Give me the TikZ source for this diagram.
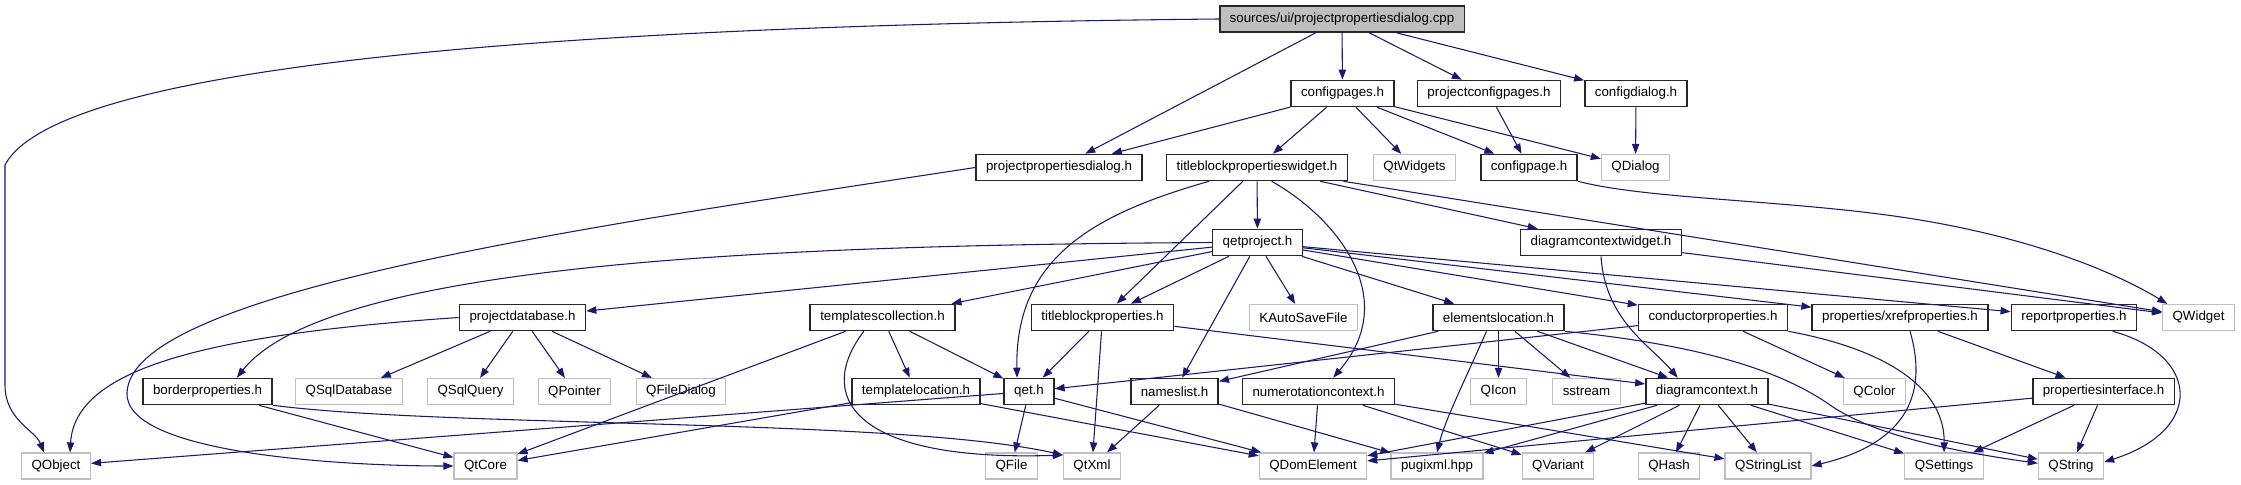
\documentclass[tikz,border=0pt]{standalone}
\usepackage{fontspec}
\setmainfont{Liberation Sans}
\usetikzlibrary{arrows.meta}
\definecolor{edgeblue}{HTML}{191970}
\definecolor{extgray}{HTML}{BFBFBF}

\begin{document}
\begin{tikzpicture}[x=0.75pt, y=-0.75pt, edge/.style={draw=edgeblue, line width=0.8pt, -{Triangle[length=7.5pt,width=5.5pt]}}]
\tikzstyle{file}=[draw=black!85, line width=1.2pt, inner xsep=7.5pt, inner ysep=0pt, minimum height=19.5pt, font=\fontsize{10}{12}\selectfont]
\tikzstyle{ext}=[file, draw=extgray, line width=0.9pt]
\useasboundingbox (0,0) rectangle (2241,485);
% top rows
\node[file, fill=extgray] (root) at (1342,19) {sources/ui/projectpropertiesdialog.cpp};
\node[file] (cfgpages) at (1342.5,93.5) {configpages.h};
\node[file] (projcfgpages) at (1489,93.5) {projectconfigpages.h};
\node[file] (cfgdialog) at (1636,93.5) {configdialog.h};
\node[file] (ppdialog) at (1059,167.5) {projectpropertiesdialog.h};
\node[file] (tbpwidget) at (1257,167.5) {titleblockpropertieswidget.h};
\node[ext] (qtwidgets) at (1414.5,167.5) {QtWidgets};
\node[file] (cfgpage) at (1529,167.5) {configpage.h};
\node[ext] (qdialog) at (1635.5,167.5) {QDialog};
\node[file] (qetproj) at (1257.5,242.5) {qetproject.h};
\node[file] (dcwidget) at (1601,242.5) {diagramcontextwidget.h};
% middle row
\node[file] (projdb) at (522.5,317.5) {projectdatabase.h};
\node[file] (tplcoll) at (882.5,317.5) {templatescollection.h};
\node[file] (tbprops) at (1102.5,317.5) {titleblockproperties.h};
\node[ext] (kautosave) at (1303.5,317.5) {KAutoSaveFile};
\node[file] (elmtloc) at (1498.5,317.5) {elementslocation.h};
\node[file] (condprops) at (1713,317.5) {conductorproperties.h};
\node[file] (xrefprops) at (1900,317.5) {properties/xrefproperties.h};
\node[file] (reportprops) at (2074,317.5) {reportproperties.h};
\node[ext] (qwidget) at (2198.5,317.5) {QWidget};
\node[file] (borderprops) at (207.5,391.5) {borderproperties.h};
\node[ext] (qsqldb) at (349,391.5) {QSqlDatabase};
\node[ext] (qsqlquery) at (470.5,391.5) {QSqlQuery};
\node[ext] (qpointer) at (574.5,391.5) {QPointer};
\node[ext] (qfiledialog) at (681,391.5) {QFileDialog};
\node[file] (tplloc) at (916,391.5) {templatelocation.h};
\node[file] (qet) at (1029,391.5) {qet.h};
\node[file] (nameslist) at (1174.5,391.5) {nameslist.h};
\node[file] (numctx) at (1318.5,391.5) {numerotationcontext.h};
\node[ext] (qicon) at (1498.5,391.5) {QIcon};
\node[ext] (sstream) at (1586.5,391.5) {sstream};
\node[file] (dctx) at (1707,391.5) {diagramcontext.h};
\node[ext] (qcolor) at (1874.5,391.5) {QColor};
\node[file] (propiface) at (2103.5,391.5) {propertiesinterface.h};
% bottom row
\node[ext] (qobject) at (56,466) {QObject};
\node[ext] (qtcore) at (485.5,466) {QtCore};
\node[ext] (qfile) at (1011.5,466) {QFile};
\node[ext] (qtxml) at (1092,466) {QtXml};
\node[ext] (qdomelement) at (1313,466) {QDomElement};
\node[ext] (pugixml) at (1437,466) {pugixml.hpp};
\node[ext] (qvariant) at (1558,466) {QVariant};
\node[ext] (qhash) at (1669,466) {QHash};
\node[ext] (qstringlist) at (1768,466) {QStringList};
\node[ext] (qsettings) at (1944,466) {QSettings};
\node[ext] (qstring) at (2071,466) {QString};
\foreach \i/\j in {root/ppdialog,root/cfgpages,root/projcfgpages,root/cfgdialog,
  cfgpages/ppdialog,cfgpages/tbpwidget,cfgpages/qtwidgets,cfgpages/cfgpage,cfgpages/qdialog,
  projcfgpages/cfgpage,cfgdialog/qdialog,
  tbpwidget/qetproj,tbpwidget/tbprops,tbpwidget/dcwidget,tbpwidget/qwidget,dcwidget/qwidget,
  qetproj/projdb,qetproj/tplcoll,qetproj/tbprops,qetproj/kautosave,qetproj/nameslist,
  qetproj/elmtloc,qetproj/condprops,qetproj/xrefprops,qetproj/reportprops,
  projdb/qsqldb,projdb/qsqlquery,projdb/qpointer,projdb/qfiledialog,
  borderprops/qtcore,tplcoll/tplloc,tplcoll/qet,tplcoll/qtcore,
  tbprops/qet,tbprops/qtxml,tbprops/dctx,tplloc/qtcore,tplloc/qdomelement,
  qet/qobject,qet/qfile,qet/qdomelement,nameslist/qtxml,nameslist/pugixml,
  numctx/qdomelement,numctx/qvariant,numctx/qstringlist,
  elmtloc/nameslist,elmtloc/qicon,elmtloc/sstream,elmtloc/dctx,
  condprops/qet,condprops/qcolor,xrefprops/propiface,
  propiface/qsettings,propiface/qstring,propiface/qdomelement,
  dctx/qdomelement,dctx/pugixml,dctx/qvariant,dctx/qhash,dctx/qstringlist,dctx/qsettings,dctx/qstring}{\draw[edge] (\i) -- (\j);}
% curved ones
\draw[edge] (root.west) .. controls (600,25) and (60,60) .. (5,165) -- (5,385) .. controls (5,420) and (35,430) .. ([xshift=-9pt]qobject.north);
\draw[edge] (ppdialog.west) .. controls (600,225) and (130,290) .. (127,393) .. controls (125,455) and (350,466) .. (qtcore.west);
\draw[edge] (cfgpage.south east) .. controls (1650,200) and (1800,200) .. (1920,220) .. controls (2040,240) and (2120,275) .. ([xshift=4pt]qwidget.north west);
\draw[edge] ([xshift=-36pt]tbpwidget.south) .. controls (1090,215) and (1015,260) .. ([xshift=-9pt]qet.north);
\draw[edge] ([xshift=11pt]tbpwidget.south) .. controls (1340,220) and (1400,300) .. ([xshift=11pt]numctx.north);
\draw[edge] (qetproj.west) .. controls (800,245) and (330,260) .. ([xshift=22pt]borderprops.north);
\draw[edge] (projdb.west) .. controls (200,335) and (75,370) .. ([xshift=10.5pt]qobject.north);
\draw[edge] (borderprops.south east) .. controls (450,428) and (900,418) .. ([yshift=-2pt]qtxml.north west);
\draw[edge] ([xshift=-14pt]tplcoll.south) .. controls (815,395) and (850,462) .. ([yshift=-2pt]qtxml.north west);
\draw[edge] ([xshift=-9pt]elmtloc.south) .. controls (1465,380) and (1445,420) .. (pugixml.north);
\draw[edge] (elmtloc.south east) .. controls (1700,345) and (1780,370) .. (1830,405) .. controls (1880,440) and (1980,455) .. ([yshift=2pt]qstring.west);
\draw[edge] (condprops.south east) .. controls (1890,350) and (1945,390) .. (qsettings.north);
\draw[edge] ([xshift=7.5pt]xrefprops.south) .. controls (1930,400) and (1900,445) .. (qstringlist.east);
\draw[edge] ([xshift=29pt]reportprops.south) .. controls (2200,355) and (2205,430) .. ([yshift=3pt]qstring.east);
\draw[edge] (dcwidget.south) .. controls (1605,320) and (1650,345) .. ([xshift=-22pt]dctx.north);
\end{tikzpicture}
\end{document}
